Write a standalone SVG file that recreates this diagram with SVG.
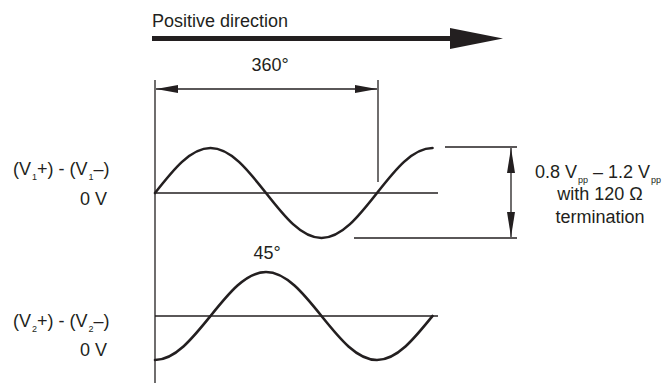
<svg xmlns="http://www.w3.org/2000/svg" width="670" height="385" viewBox="0 0 670 385">
<style>
.t{font-family:"Liberation Sans",Arial,sans-serif;fill:#231f20}
.l{font-size:18px}
.s{font-size:9px}
.thin{stroke:#231f20;stroke-width:1.3;fill:none}
.wave{stroke:#231f20;stroke-width:2.6;fill:none;stroke-linecap:round}
</style>
<defs>
<marker id="ah" viewBox="0 0 22 8" refX="22" refY="4" markerWidth="22" markerHeight="8" markerUnits="userSpaceOnUse" orient="auto-start-reverse">
<path d="M0,0 L22,4 L0,8 Z" fill="#231f20"/>
</marker>
<marker id="ahv" viewBox="0 0 25 8" refX="25" refY="4" markerWidth="25" markerHeight="8" markerUnits="userSpaceOnUse" orient="auto-start-reverse">
<path d="M0,0 L25,4 L0,8 Z" fill="#231f20"/>
</marker>
</defs>
<rect width="670" height="385" fill="#fff"/>

<g id="direction">
<text class="t" x="152" y="27" font-size="18">Positive direction</text>
<rect x="152" y="36" width="300" height="5" fill="#231f20"/>
<polygon points="450,28 503,38.5 450,49" fill="#231f20"/>
</g>

<g id="labels">
<text class="t l" x="13" y="175">(V<tspan class="s" dx="1" dy="5">1</tspan><tspan dy="-5">+) - (V</tspan><tspan class="s" dx="1" dy="5">1</tspan><tspan dy="-5">–)</tspan></text>
<text class="t l" x="107" y="205" text-anchor="end">0 V</text>
<text class="t l" x="13" y="327">(V<tspan class="s" dx="1" dy="5">2</tspan><tspan dy="-5">+) - (V</tspan><tspan class="s" dx="1" dy="5">2</tspan><tspan dy="-5">–)</tspan></text>
<text class="t l" x="107" y="356" text-anchor="end">0 V</text>
<text class="t" x="270" y="71" font-size="18" text-anchor="middle">360°</text>
<text class="t" x="267" y="259" font-size="18" text-anchor="middle">45°</text>
<text class="t l" x="598" y="178" text-anchor="middle">0.8 V<tspan class="s" dx="1" dy="5">pp</tspan><tspan dy="-5"> – 1.2 V</tspan><tspan class="s" dx="1" dy="5">pp</tspan></text>
<text class="t l" x="600" y="200" text-anchor="middle">with 120 Ω</text>
<text class="t l" x="600" y="223" text-anchor="middle">termination</text>
</g>

<g id="connectors">
<line class="thin" x1="155" y1="80" x2="155" y2="383"/>
<line class="thin" x1="378" y1="80" x2="378" y2="182"/>
<line class="thin" x1="155" y1="193" x2="438" y2="193"/>
<line class="thin" x1="155" y1="316" x2="438" y2="316"/>
<line class="thin" x1="445" y1="147" x2="517" y2="147"/>
<line class="thin" x1="354" y1="238" x2="517" y2="238"/>
<line class="thin" x1="156" y1="89" x2="377" y2="89" marker-start="url(#ah)" marker-end="url(#ah)"/>
<line class="thin" x1="511" y1="148" x2="511" y2="237" marker-start="url(#ahv)" marker-end="url(#ahv)"/>
</g>

<g id="wave1">
<path class="wave" d="M155,193 C173.1,169.95 190.41,148 210.5,148 C230.59,148 247.9,169.95 266,193 C284.1,216.05 301.41,238 321.5,238 C341.59,238 358.9,216.05 377,193 C395.1,169.950 412.41,148 432.5,148"/>
</g>
<g id="wave2">
<path class="wave" d="M155,360 C175.09,360 192.4,338.46 210.5,316 C228.6,293.46 245.91,272 266,272 C286.09,272 303.4,293.46 321.5,316 C339.6,338.54 356.91,360 377,360 C397.09,360 414.4,338.46 432.5,316"/>
</g>
</svg>
